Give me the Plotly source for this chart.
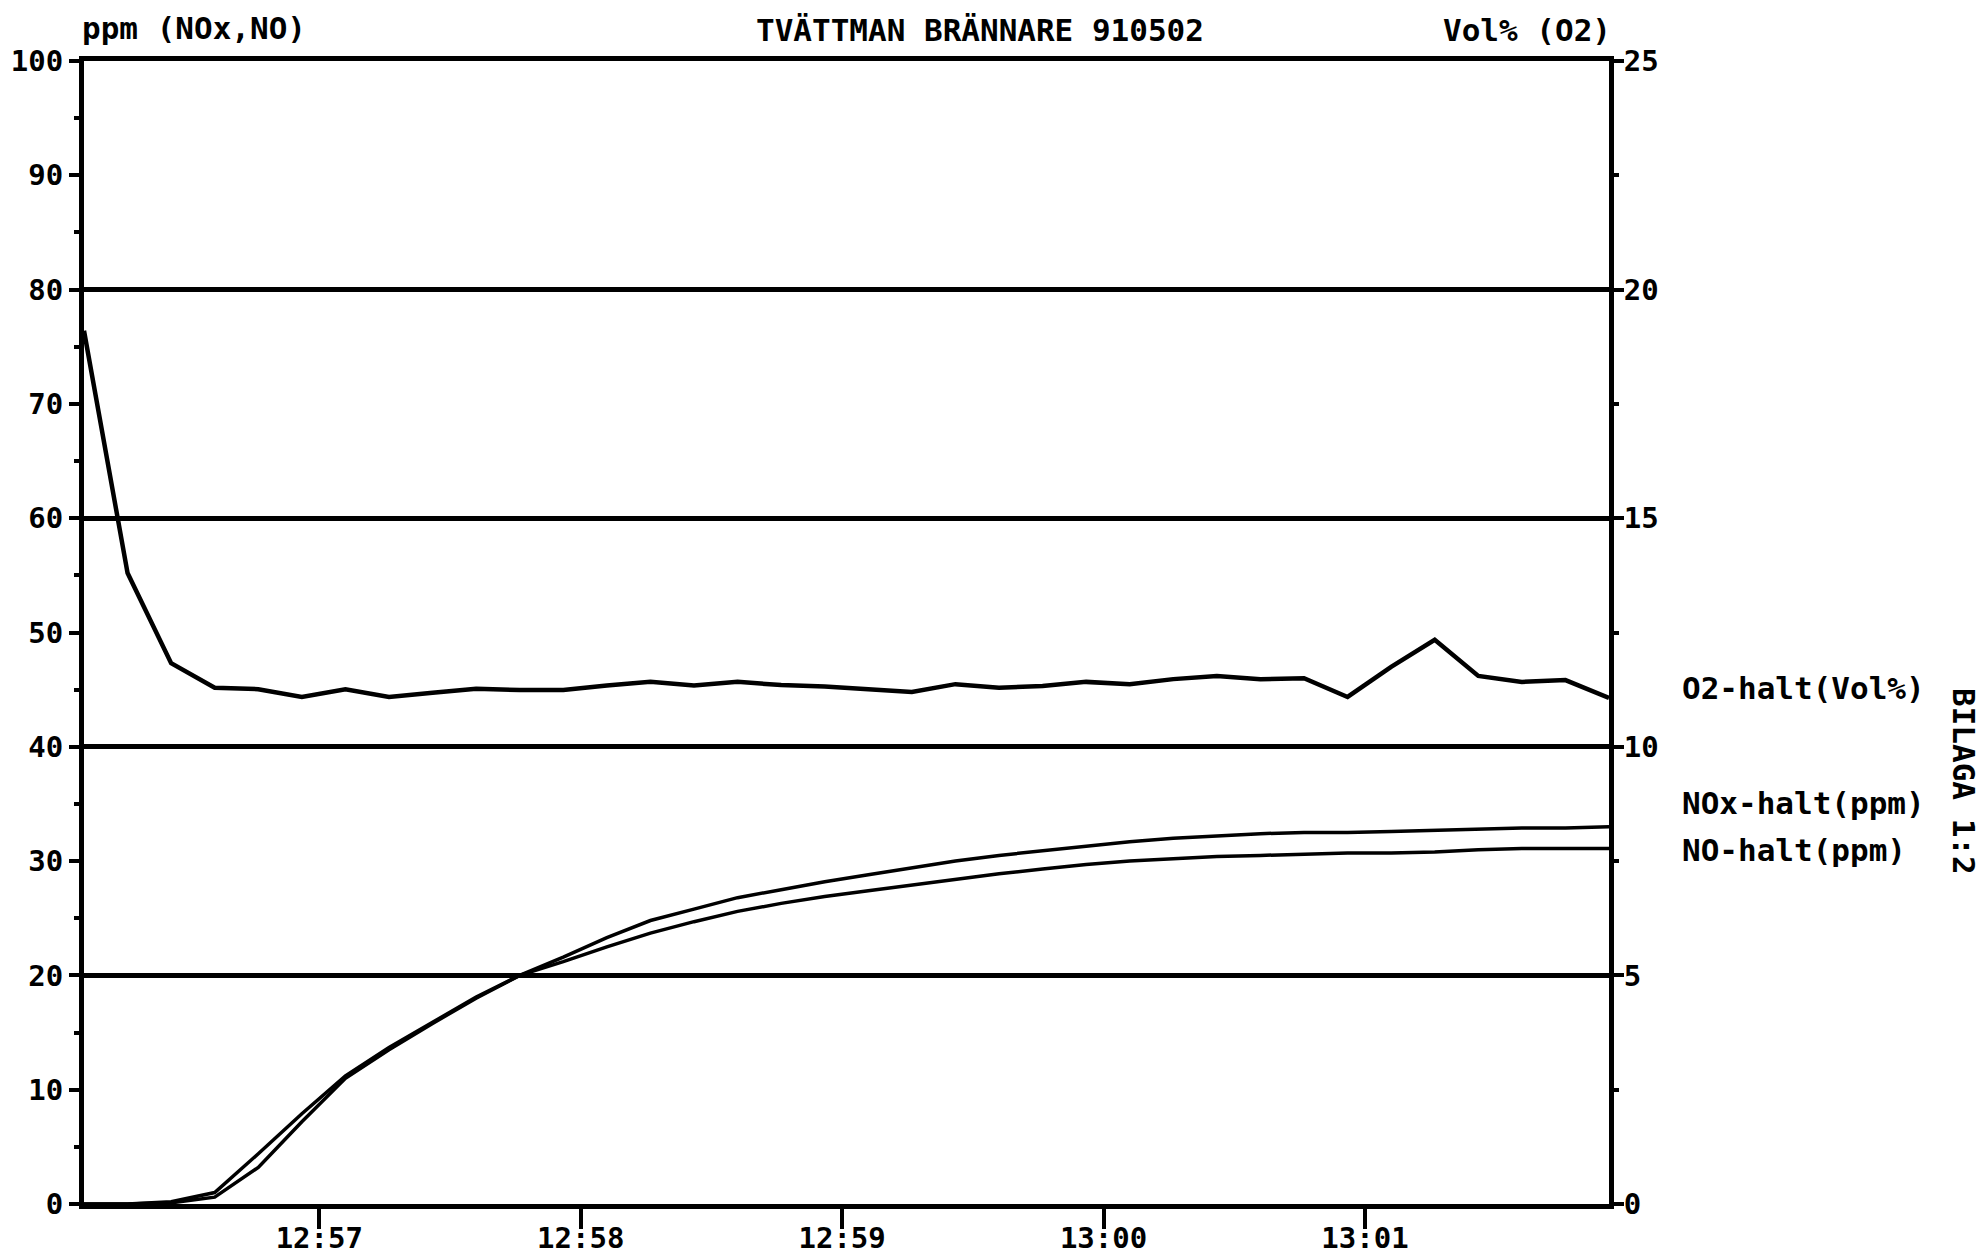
import pandas as pd
import plotly.graph_objects as go

# ---- data (sampled every 10 s, 1991-05-02) ----
start_time = "1991-05-02 12:56:06"
n_samples = 36
o2_volpct = [19.1, 13.8, 11.83, 11.29, 11.26, 11.09, 11.26, 11.09, 11.18, 11.27,
             11.24, 11.24, 11.34, 11.42, 11.34, 11.42, 11.35, 11.32, 11.26, 11.2,
             11.37, 11.29, 11.33, 11.42, 11.37, 11.48, 11.55, 11.48, 11.5, 11.09,
             11.75, 12.34, 11.55, 11.42, 11.46, 11.07]
nox_ppm = [0.0, 0.0, 0.1, 0.6, 3.2, 7.2, 11.0, 13.5, 15.8, 18.0,
           20.0, 21.6, 23.3, 24.8, 25.8, 26.8, 27.5, 28.2, 28.8, 29.4,
           30.0, 30.5, 30.9, 31.3, 31.7, 32.0, 32.2, 32.4, 32.5, 32.5,
           32.6, 32.7, 32.8, 32.9, 32.9, 33.0]
no_ppm = [0.0, 0.0, 0.2, 1.0, 4.4, 7.9, 11.2, 13.7, 15.9, 18.1,
          20.0, 21.2, 22.5, 23.7, 24.7, 25.6, 26.3, 26.9, 27.4, 27.9,
          28.4, 28.9, 29.3, 29.7, 30.0, 30.2, 30.4, 30.5, 30.6, 30.7,
          30.7, 30.8, 31.0, 31.1, 31.1, 31.1]

times = pd.date_range(start_time, periods=n_samples, freq="10s")

W, H = 1984, 1258
L, R, T, B = 84, 1609, 61, 1204
FONT = "DejaVu Sans Mono"

def px(x):
    return (x - L) / (R - L)

def py(y):
    return (B - y) / (B - T)

fig = go.Figure()
fig.add_trace(go.Scatter(x=times, y=nox_ppm, mode="lines", name="NOx-halt(ppm)",
                         line=dict(color="black", width=3.5), yaxis="y"))
fig.add_trace(go.Scatter(x=times, y=no_ppm, mode="lines", name="NO-halt(ppm)",
                         line=dict(color="black", width=3.5), yaxis="y"))
fig.add_trace(go.Scatter(x=times, y=o2_volpct, mode="lines", name="O2-halt(Vol%)",
                         line=dict(color="black", width=4.5), yaxis="y2"))

tickfont = dict(family=FONT, size=29, color="black", weight="bold")
fig.update_layout(
    width=W, height=H,
    margin=dict(l=L, r=W - R, t=T, b=H - B, autoexpand=False),
    paper_bgcolor="white", plot_bgcolor="white",
    showlegend=False,
    font=dict(family=FONT, color="black"),
    xaxis=dict(
        type="date", automargin=False,
        range=[times[0], times[-1]],
        tickformat="%H:%M", dtick=60000, tick0="1991-05-02 12:57:00",
        ticks="outside", ticklen=20, tickwidth=4, tickcolor="black",
        ticklabelstandoff=-16,
        showline=True, linecolor="black", linewidth=5, mirror=True,
        showgrid=False, zeroline=False, tickfont=tickfont,
    ),
    yaxis=dict(
        range=[0, 100], dtick=10, tick0=0, automargin=False,
        ticks="outside", ticklen=10, tickwidth=4, tickcolor="black",
        minor=dict(dtick=5, ticks="outside", ticklen=5, tickwidth=4, tickcolor="black", showgrid=False),
        showline=True, linecolor="black", linewidth=5,
        showgrid=False, zeroline=False, tickfont=tickfont,
    ),
    yaxis2=dict(
        range=[0, 25], dtick=5, tick0=0, overlaying="y", side="right", automargin=False,
        ticks="outside", ticklen=10, tickwidth=4, tickcolor="black",
        ticklabelstandoff=-6,
        minor=dict(dtick=2.5, ticks="outside", ticklen=5, tickwidth=4, tickcolor="black", showgrid=False),
        showline=True, linecolor="black", linewidth=5,
        showgrid=True, gridcolor="black", gridwidth=4.5, zeroline=False,
        tickfont=tickfont,
    ),
)

tfont = dict(family=FONT, size=31, color="black", weight="bold")
annots = [
    dict(text="ppm (NOx,NO)", x=px(80), y=py(28), xanchor="left", yanchor="middle"),
    dict(text="TVÄTTMAN BRÄNNARE 910502", x=px(980), y=py(30), xanchor="center", yanchor="middle"),
    dict(text="Vol% (O2)", x=px(1613), y=py(30), xanchor="right", yanchor="middle"),
    dict(text="O2-halt(Vol%)", x=px(1680), y=py(688), xanchor="left", yanchor="middle"),
    dict(text="NOx-halt(ppm)", x=px(1680), y=py(803), xanchor="left", yanchor="middle"),
    dict(text="NO-halt(ppm)", x=px(1680), y=py(850), xanchor="left", yanchor="middle"),
    dict(text="BILAGA 1:2", x=px(1964), y=py(781), xanchor="center", yanchor="middle", textangle=90),
]
for a in annots:
    fig.add_annotation(xref="paper", yref="paper", showarrow=False, font=tfont, **a)

fig.write_html("out.html")
